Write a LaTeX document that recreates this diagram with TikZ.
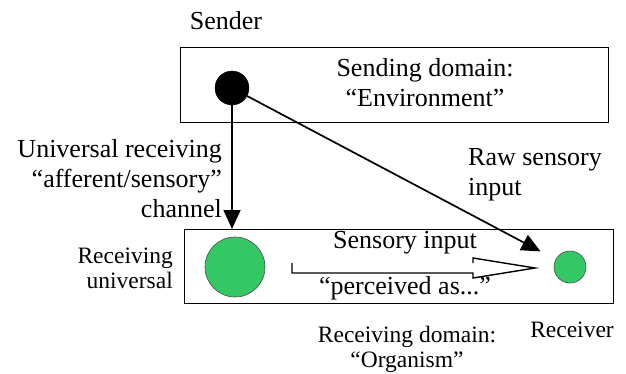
\documentclass[tikz,border=0pt]{standalone}
\usepackage{fontspec}
\setmainfont{Liberation Serif}
\usetikzlibrary{arrows.meta,calc}
\definecolor{dotgreen}{RGB}{52,200,100}
\tikzset{
  domainbox/.style={draw=black, line width=1.4pt, fill=white},
  lbl/.style={font=\fontsize{26}{30}\selectfont, inner sep=0pt, align=center},
  slbl/.style={font=\fontsize{23.5}{25}\selectfont, inner sep=0pt, align=center},
  arr/.style={line width=1.7pt, -{Triangle[length=19pt,width=17pt]}},
}
\begin{document}
\begin{tikzpicture}[x=1pt,y=-1pt]
\useasboundingbox (0,0) rectangle (626,373);
% domains
\node[domainbox, minimum width=428pt, minimum height=75pt, anchor=north west] (sbox) at (180,47) {};
\node[domainbox, minimum width=429pt, minimum height=74pt, anchor=north west] (rbox) at (184,229) {};
% circles
\node[circle, fill=black, draw=black, minimum size=34pt, inner sep=0pt] (s) at (232,88) {};
\node[circle, fill=dotgreen, draw=black!70, line width=0.6pt, minimum size=60pt, inner sep=0pt] (u) at (235,267) {};
\node[circle, fill=dotgreen, draw=black!70, line width=0.6pt, minimum size=32pt, inner sep=0pt] (r) at (570,267) {};
% labels
\node[lbl] (sender) at (226,21) {Sender};
\node[lbl] (sdom) at (425,83) {Sending domain:\\“Environment”};
\node[lbl, align=right, anchor=east] (chan) at (222,179) {Universal receiving\\“afferent/sensory”\\channel};
\node[slbl, align=right, anchor=east] (runiv) at (173,268) {Receiving\\universal};
\node[lbl, align=left, anchor=west] (raw) at (468,175) {Raw sensory\\input};
\node[slbl] (rdom) at (407,349) {Receiving domain:\\“Organism”};
\node[slbl] (recv) at (572,330) {Receiver};
% hollow arrow
\coordinate (h0) at (292,263);
\coordinate (h1) at (292,273);
\coordinate (h2) at (473,273);
\coordinate (h3) at (473,278);
\coordinate (h4) at (535,268);
\coordinate (h5) at (473,258);
\coordinate (h6) at (473,263);
\draw[line width=1.4pt, line join=miter] (h0) -- (h1) -- (h2) -- (h3) -- (h4) -- (h5) -- (h6);
\node[lbl] (sin) at (405,243) {Sensory input};
\node[lbl] (perc) at (405,288) {“perceived as...”};
% connectors
\draw[arr] (s.south) -- (s.south |- rbox.north);
\draw[arr, shorten >=17pt] (s) -- (r);
\end{tikzpicture}
\end{document}
